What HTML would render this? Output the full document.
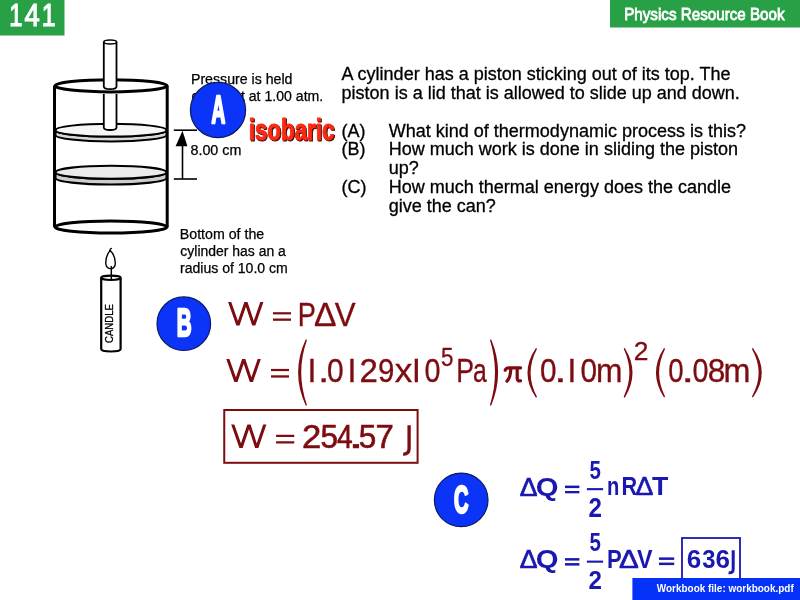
<!DOCTYPE html>
<html><head><meta charset="utf-8"><title>Physics Resource Book 141</title>
<style>
html,body{margin:0;padding:0;background:#fff;width:800px;height:600px;overflow:hidden}
svg{display:block;will-change:transform}
text{font-family:"Liberation Sans", sans-serif}
</style></head><body>
<svg width="800" height="600" viewBox="0 0 800 600">
<rect width="800" height="600" fill="#fff"/>
<rect x="0" y="0" width="64.5" height="35.5" fill="#28a046"/>
<text x="9.32" y="26.40" font-size="30.8" font-weight="normal" fill="#fff" textLength="13.17" lengthAdjust="spacingAndGlyphs" stroke="#fff" stroke-width="1.2">1</text>
<text x="24.55" y="26.40" font-size="30.8" font-weight="normal" fill="#fff" textLength="15.20" lengthAdjust="spacingAndGlyphs" stroke="#fff" stroke-width="1.2">4</text>
<text x="41.74" y="26.40" font-size="30.8" font-weight="normal" fill="#fff" textLength="13.81" lengthAdjust="spacingAndGlyphs" stroke="#fff" stroke-width="1.2">1</text>
<rect x="610" y="0" width="190" height="27.5" fill="#28a046"/>
<text x="624.18" y="19.60" font-size="16.8" font-weight="normal" fill="#fff" textLength="160.42" lengthAdjust="spacingAndGlyphs" stroke="#fff" stroke-width="0.8">Physics Resource Book</text>
<g fill="none" stroke="#000">
<ellipse cx="111" cy="85.8" rx="56" ry="6.1" stroke-width="3"/>
<line x1="54.5" y1="85.8" x2="54.5" y2="227" stroke-width="3"/>
<line x1="167.2" y1="85.8" x2="167.2" y2="227" stroke-width="3"/>
<ellipse cx="111" cy="227" rx="56" ry="6.1" stroke-width="3" fill="#fff"/>
</g>
<path d="M103.8,42 L103.8,86.5 Q103.8,89.2 110.2,89.2 Q116.5,89.2 116.5,86.5 L116.5,42" fill="#fff" stroke="#000" stroke-width="1.8"/>
<ellipse cx="110.2" cy="42" rx="6.4" ry="2" fill="#fff" stroke="#000" stroke-width="1.6"/>
<path d="M55.5,130.15 A55.5,6.4 0 0 0 166.5,130.15 L166.5,135.05 A55.5,6.4 0 0 1 55.5,135.05 Z" fill="#d8d8d8" stroke="#000" stroke-width="2"/>
<ellipse cx="111" cy="130.15" rx="55.5" ry="6.4" fill="#f6f6f6" stroke="#000" stroke-width="2"/>
<path d="M103.8,94 L103.8,127.5 Q103.8,130 110.2,130 Q116.5,130 116.5,127.5 L116.5,94" fill="#fff" stroke="#000" stroke-width="1.8"/>
<path d="M55.5,172.25 A55.5,6.5 0 0 0 166.5,172.25 L166.5,178.05 A55.5,6.5 0 0 1 55.5,178.05 Z" fill="#cdcdcd" stroke="#000" stroke-width="2.1"/>
<ellipse cx="111" cy="172.25" rx="55.5" ry="6.5" fill="#ebebeb" stroke="#000" stroke-width="2.1"/>
<g stroke="#000" stroke-width="1.6">
<line x1="173.8" y1="130.2" x2="197" y2="130.2"/>
<line x1="173.8" y1="179" x2="197" y2="179"/>
<line x1="182.5" y1="140" x2="182.5" y2="179"/>
</g>
<path d="M182.5,130.8 L187.4,146.3 L175.6,146.3 Z" fill="#000"/>
<path d="M101.2,278 L101.2,349 Q101.2,351.5 111,351.5 Q120.6,351.5 120.6,349 L120.6,278" fill="#fff" stroke="#000" stroke-width="2.2"/>
<ellipse cx="110.9" cy="277.8" rx="9.8" ry="2.2" fill="#fff" stroke="#000" stroke-width="2.2"/>
<path d="M110,250.6 C107.2,254 105.6,258.5 105.8,263.5 C106,267 108.5,268.6 111,268.6 C113.2,268.6 115.4,267 115.3,263 C115.1,257 112.8,253 110.4,250.8 Z" fill="#fff" stroke="#000" stroke-width="1.4"/>
<path d="M109.6,251 Q110,248.6 111.4,248.3" fill="none" stroke="#000" stroke-width="1.3" stroke-linecap="round"/>
<line x1="111.3" y1="266" x2="111.3" y2="279" stroke="#000" stroke-width="1.5"/>
<text transform="translate(112.7,342.92) rotate(-90)" x="0" y="0" font-size="10.5" textLength="38.83" lengthAdjust="spacingAndGlyphs" fill="#000" stroke="#000" stroke-width="0.3">CANDLE</text>
<text x="190.97" y="83.75" font-size="14" font-weight="normal" fill="#000" textLength="101.45" lengthAdjust="spacingAndGlyphs" stroke="#000" stroke-width="0.25">Pressure is held</text>
<text x="191.54" y="100.60" font-size="14" font-weight="normal" fill="#000" textLength="131.69" lengthAdjust="spacingAndGlyphs" stroke="#000" stroke-width="0.25">constant at 1.00 atm.</text>
<text x="190.46" y="154.50" font-size="14" font-weight="normal" fill="#000" textLength="50.93" lengthAdjust="spacingAndGlyphs" stroke="#000" stroke-width="0.25">8.00 cm</text>
<text x="179.76" y="238.90" font-size="14" font-weight="normal" fill="#000" textLength="84.52" lengthAdjust="spacingAndGlyphs" stroke="#000" stroke-width="0.25">Bottom of the</text>
<text x="180.34" y="255.70" font-size="14" font-weight="normal" fill="#000" textLength="105.56" lengthAdjust="spacingAndGlyphs" stroke="#000" stroke-width="0.25">cylinder has an a</text>
<text x="179.99" y="272.50" font-size="14" font-weight="normal" fill="#000" textLength="107.76" lengthAdjust="spacingAndGlyphs" stroke="#000" stroke-width="0.25">radius of 10.0 cm</text>
<text x="341.60" y="80.00" font-size="18" font-weight="normal" fill="#000" stroke="#000" stroke-width="0.3">A cylinder has a piston sticking out of its top. The</text>
<text x="341.60" y="98.70" font-size="18" font-weight="normal" fill="#000" stroke="#000" stroke-width="0.3">piston is a lid that is allowed to slide up and down.</text>
<text x="341.60" y="136.70" font-size="18" font-weight="normal" fill="#000" stroke="#000" stroke-width="0.3">(A)</text>
<text x="388.80" y="136.70" font-size="18" font-weight="normal" fill="#000" stroke="#000" stroke-width="0.3">What kind of thermodynamic process is this?</text>
<text x="341.60" y="155.30" font-size="18" font-weight="normal" fill="#000" stroke="#000" stroke-width="0.3">(B)</text>
<text x="388.80" y="155.30" font-size="18" font-weight="normal" fill="#000" stroke="#000" stroke-width="0.3">How much work is done in sliding the piston</text>
<text x="388.80" y="174.20" font-size="18" font-weight="normal" fill="#000" stroke="#000" stroke-width="0.3">up?</text>
<text x="341.60" y="193.30" font-size="18" font-weight="normal" fill="#000" stroke="#000" stroke-width="0.3">(C)</text>
<text x="388.80" y="193.30" font-size="18" font-weight="normal" fill="#000" stroke="#000" stroke-width="0.3">How much thermal energy does the candle</text>
<text x="388.80" y="211.70" font-size="18" font-weight="normal" fill="#000" stroke="#000" stroke-width="0.3">give the can?</text>
<circle cx="218" cy="110" r="27.6" fill="#0b34f8" stroke="#0a1a60" stroke-width="1.2"/>
<text x="211.42" y="122.70" font-size="38.23" font-weight="bold" fill="#fff" textLength="13.80" lengthAdjust="spacingAndGlyphs" stroke="#fff" stroke-width="2.6" stroke-linejoin="round">A</text>
<circle cx="183.8" cy="323.7" r="26.8" fill="#0b34f8" stroke="#0a1a60" stroke-width="1.2"/>
<text x="176.76" y="336.20" font-size="38.23" font-weight="bold" fill="#fff" textLength="14.92" lengthAdjust="spacingAndGlyphs" stroke="#fff" stroke-width="2.6" stroke-linejoin="round">B</text>
<circle cx="461.2" cy="499.9" r="26.8" fill="#0b34f8" stroke="#0a1a60" stroke-width="1.2"/>
<text x="453.89" y="512.90" font-size="39.06" font-weight="bold" fill="#fff" textLength="14.55" lengthAdjust="spacingAndGlyphs" stroke="#fff" stroke-width="2.6" stroke-linejoin="round">C</text>
<g transform="translate(0,139.80) scale(1,1.06) translate(0,-139.80)">
<text x="249.64" y="140.80" font-size="28.5" font-weight="bold" fill="#3c0500" stroke="#3c0500" stroke-width="1.0" stroke-linejoin="round" textLength="85.74" lengthAdjust="spacingAndGlyphs">isobaric</text>
<text x="248.74" y="139.80" font-size="28.5" font-weight="bold" fill="#fb2a14" stroke="#fb2a14" stroke-width="1.0" stroke-linejoin="round" textLength="85.74" lengthAdjust="spacingAndGlyphs">isobaric</text>
</g>
<clipPath id="wc1"><rect x="225" y="302" width="41.5" height="23.5"/></clipPath>
<path d="M228.32,298.23 L237.94,325.50 L245.93,302.00 L253.74,325.50 L263.16,298.22" fill="none" stroke="#7c0c10" stroke-width="3.0" stroke-linejoin="miter" stroke-miterlimit="10" clip-path="url(#wc1)"/>
<text x="297.83" y="325.50" font-size="34" font-weight="normal" fill="#7c0c10" textLength="18.08" lengthAdjust="spacingAndGlyphs" stroke="#7c0c10" stroke-width="0.35">P</text>
<text x="313.99" y="325.50" font-size="34" font-weight="normal" fill="#7c0c10" textLength="22.45" lengthAdjust="spacingAndGlyphs" stroke="#7c0c10" stroke-width="0.35">Δ</text>
<text x="334.84" y="325.50" font-size="34" font-weight="normal" fill="#7c0c10" textLength="20.88" lengthAdjust="spacingAndGlyphs" stroke="#7c0c10" stroke-width="0.35">V</text>
<rect x="273" y="312.2" width="18.00" height="2.20" fill="#7c0c10"/><rect x="273" y="318.5" width="18.00" height="2.30" fill="#7c0c10"/>
<clipPath id="wc2"><rect x="223.2" y="359" width="40.69999999999999" height="23"/></clipPath>
<path d="M226.53,355.23 L235.92,382.00 L243.72,359.00 L251.36,382.00 L260.55,355.22" fill="none" stroke="#7c0c10" stroke-width="3.0" stroke-linejoin="miter" stroke-miterlimit="10" clip-path="url(#wc2)"/>
<rect x="271" y="368.9" width="18.00" height="2.20" fill="#7c0c10"/><rect x="271" y="375.3" width="18.00" height="2.30" fill="#7c0c10"/>
<path d="M306.20,340.10 Q291.40,372.50 306.20,404.90 Q294.80,372.50 306.20,340.10 Z" fill="#7c0c10" stroke="#7c0c10" stroke-width="1.4" stroke-linejoin="round"/>
<text x="307.46" y="382.20" font-size="33.2" font-weight="normal" fill="#7c0c10" textLength="8.92" lengthAdjust="spacingAndGlyphs" stroke="#7c0c10" stroke-width="0.35">I</text>
<text x="318.39" y="382.20" font-size="33.2" font-weight="normal" fill="#7c0c10" textLength="10.82" lengthAdjust="spacingAndGlyphs" stroke="#7c0c10" stroke-width="0.35">.</text>
<text x="326.90" y="382.20" font-size="33.2" font-weight="normal" fill="#7c0c10" textLength="16.69" lengthAdjust="spacingAndGlyphs" stroke="#7c0c10" stroke-width="0.35">0</text>
<text x="347.46" y="382.20" font-size="33.2" font-weight="normal" fill="#7c0c10" textLength="8.92" lengthAdjust="spacingAndGlyphs" stroke="#7c0c10" stroke-width="0.35">I</text>
<text x="359.60" y="382.20" font-size="33.2" font-weight="normal" fill="#7c0c10" textLength="18.34" lengthAdjust="spacingAndGlyphs" stroke="#7c0c10" stroke-width="0.35">2</text>
<text x="378.07" y="382.20" font-size="33.2" font-weight="normal" fill="#7c0c10" textLength="16.39" lengthAdjust="spacingAndGlyphs" stroke="#7c0c10" stroke-width="0.35">9</text>
<text x="394.65" y="382.20" font-size="33.2" font-weight="normal" fill="#7c0c10" textLength="17.60" lengthAdjust="spacingAndGlyphs" stroke="#7c0c10" stroke-width="0.35">x</text>
<text x="411.91" y="382.20" font-size="33.2" font-weight="normal" fill="#7c0c10" textLength="8.77" lengthAdjust="spacingAndGlyphs" stroke="#7c0c10" stroke-width="0.35">I</text>
<text x="424.45" y="382.20" font-size="33.2" font-weight="normal" fill="#7c0c10" textLength="15.99" lengthAdjust="spacingAndGlyphs" stroke="#7c0c10" stroke-width="0.35">0</text>
<text x="456.37" y="382.20" font-size="33.2" font-weight="normal" fill="#7c0c10" textLength="17.77" lengthAdjust="spacingAndGlyphs" stroke="#7c0c10" stroke-width="0.35">P</text>
<text x="473.01" y="382.20" font-size="33.2" font-weight="normal" fill="#7c0c10" textLength="13.77" lengthAdjust="spacingAndGlyphs" stroke="#7c0c10" stroke-width="0.35">a</text>
<text x="441.01" y="366.25" font-size="25.7" font-weight="normal" fill="#7c0c10" textLength="12.41" lengthAdjust="spacingAndGlyphs" stroke="#7c0c10" stroke-width="0.35">5</text>
<path d="M490.70,340.10 Q504.10,372.50 490.70,404.90 Q500.70,372.50 490.70,340.10 Z" fill="#7c0c10" stroke="#7c0c10" stroke-width="1.4" stroke-linejoin="round"/>
<g fill="none" stroke="#7c0c10" stroke-width="3.2" stroke-linecap="round"><path d="M505.2,370.2 Q506,367.6 509.5,367.8 L520.6,367.8"/><path d="M510.8,368.5 Q510.6,377.5 507,381.2"/><path d="M517.2,368.5 L517.2,378.5 Q517.6,381.5 520.6,380.8"/></g>
<path d="M536.20,348.80 Q520.20,372.80 536.20,396.80 Q523.60,372.80 536.20,348.80 Z" fill="#7c0c10" stroke="#7c0c10" stroke-width="1.4" stroke-linejoin="round"/>
<text x="540.01" y="382.10" font-size="33.2" font-weight="normal" fill="#7c0c10" textLength="16.57" lengthAdjust="spacingAndGlyphs" stroke="#7c0c10" stroke-width="0.35">0</text>
<text x="554.22" y="382.10" font-size="33.2" font-weight="normal" fill="#7c0c10" textLength="12.28" lengthAdjust="spacingAndGlyphs" stroke="#7c0c10" stroke-width="0.35">.</text>
<text x="567.41" y="382.10" font-size="33.2" font-weight="normal" fill="#7c0c10" textLength="8.77" lengthAdjust="spacingAndGlyphs" stroke="#7c0c10" stroke-width="0.35">I</text>
<text x="580.41" y="382.10" font-size="33.2" font-weight="normal" fill="#7c0c10" textLength="16.57" lengthAdjust="spacingAndGlyphs" stroke="#7c0c10" stroke-width="0.35">0</text>
<text x="595.93" y="382.10" font-size="33.2" font-weight="normal" fill="#7c0c10" textLength="26.47" lengthAdjust="spacingAndGlyphs" stroke="#7c0c10" stroke-width="0.35">m</text>
<path d="M624.45,348.80 Q639.15,372.80 624.45,396.80 Q635.75,372.80 624.45,348.80 Z" fill="#7c0c10" stroke="#7c0c10" stroke-width="1.4" stroke-linejoin="round"/>
<text x="633.68" y="359.50" font-size="26" font-weight="normal" fill="#7c0c10" textLength="14.67" lengthAdjust="spacingAndGlyphs" stroke="#7c0c10" stroke-width="0.35">2</text>
<path d="M664.30,348.90 Q649.10,372.73 664.30,396.55 Q652.50,372.73 664.30,348.90 Z" fill="#7c0c10" stroke="#7c0c10" stroke-width="1.4" stroke-linejoin="round"/>
<text x="668.15" y="382.00" font-size="33.2" font-weight="normal" fill="#7c0c10" textLength="15.35" lengthAdjust="spacingAndGlyphs" stroke="#7c0c10" stroke-width="0.35">0</text>
<text x="681.63" y="382.00" font-size="33.2" font-weight="normal" fill="#7c0c10" textLength="12.57" lengthAdjust="spacingAndGlyphs" stroke="#7c0c10" stroke-width="0.35">.</text>
<text x="692.55" y="382.00" font-size="33.2" font-weight="normal" fill="#7c0c10" textLength="15.99" lengthAdjust="spacingAndGlyphs" stroke="#7c0c10" stroke-width="0.35">0</text>
<text x="707.67" y="382.00" font-size="33.2" font-weight="normal" fill="#7c0c10" textLength="17.63" lengthAdjust="spacingAndGlyphs" stroke="#7c0c10" stroke-width="0.35">8</text>
<text x="723.50" y="382.00" font-size="33.2" font-weight="normal" fill="#7c0c10" textLength="26.94" lengthAdjust="spacingAndGlyphs" stroke="#7c0c10" stroke-width="0.35">m</text>
<path d="M752.70,348.90 Q769.40,372.73 752.70,396.55 Q766.00,372.73 752.70,348.90 Z" fill="#7c0c10" stroke="#7c0c10" stroke-width="1.4" stroke-linejoin="round"/>
<rect x="224.25" y="410" width="193.35" height="52.8" fill="none" stroke="#7c0c10" stroke-width="2"/>
<clipPath id="wc3"><rect x="228.1" y="424.4" width="41.400000000000006" height="23.700000000000045"/></clipPath>
<path d="M231.43,420.62 L241.01,448.10 L248.98,424.40 L256.76,448.10 L266.14,420.61" fill="none" stroke="#7c0c10" stroke-width="3.0" stroke-linejoin="miter" stroke-miterlimit="10" clip-path="url(#wc3)"/>
<rect x="276.1" y="434.75" width="18.15" height="2.25" fill="#7c0c10"/><rect x="276.1" y="441.25" width="18.15" height="2.25" fill="#7c0c10"/>
<text x="302.02" y="448.20" font-size="33" font-weight="normal" fill="#7c0c10" textLength="19.25" lengthAdjust="spacingAndGlyphs" stroke="#7c0c10" stroke-width="0.6">2</text>
<text x="320.49" y="448.20" font-size="33" font-weight="normal" fill="#7c0c10" textLength="17.56" lengthAdjust="spacingAndGlyphs" stroke="#7c0c10" stroke-width="0.6">5</text>
<text x="336.94" y="448.20" font-size="33" font-weight="normal" fill="#7c0c10" textLength="15.69" lengthAdjust="spacingAndGlyphs" stroke="#7c0c10" stroke-width="0.6">4</text>
<text x="348.28" y="448.20" font-size="33" font-weight="normal" fill="#7c0c10" textLength="15.35" lengthAdjust="spacingAndGlyphs" stroke="#7c0c10" stroke-width="0.6">.</text>
<text x="358.74" y="448.20" font-size="33" font-weight="normal" fill="#7c0c10" textLength="17.56" lengthAdjust="spacingAndGlyphs" stroke="#7c0c10" stroke-width="0.6">5</text>
<text x="375.60" y="448.20" font-size="33" font-weight="normal" fill="#7c0c10" textLength="18.34" lengthAdjust="spacingAndGlyphs" stroke="#7c0c10" stroke-width="0.6">7</text>
<path d="M409.1,425.2 L409.1,448.5 Q409.1,454 403.2,454.3" fill="none" stroke="#7c0c10" stroke-width="3.3"/>
<text x="519.80" y="496.00" font-size="25" font-weight="normal" fill="#1a18b0" textLength="17.85" lengthAdjust="spacingAndGlyphs" stroke="#1a18b0" stroke-width="0.7">Δ</text>
<text x="535.73" y="496.00" font-size="25" font-weight="bold" fill="#1a18b0" textLength="22.77" lengthAdjust="spacingAndGlyphs" >Q</text>
<rect x="565" y="485.6" width="14.40" height="2.50" fill="#1a18b0"/><rect x="565" y="491.0" width="14.40" height="2.30" fill="#1a18b0"/>
<text x="589.38" y="478.50" font-size="26.5" font-weight="bold" fill="#1a18b0" textLength="11.40" lengthAdjust="spacingAndGlyphs" >5</text>
<rect x="586.9" y="488.1" width="16.2" height="2.1" fill="#1a18b0"/>
<text x="588.55" y="516.90" font-size="27" font-weight="bold" fill="#1a18b0" textLength="13.44" lengthAdjust="spacingAndGlyphs" >2</text>
<text x="606.94" y="495.30" font-size="25" font-weight="bold" fill="#1a18b0" textLength="12.28" lengthAdjust="spacingAndGlyphs" >n</text>
<text x="621.49" y="495.30" font-size="25" font-weight="bold" fill="#1a18b0" textLength="15.69" lengthAdjust="spacingAndGlyphs" >R</text>
<text x="635.50" y="495.30" font-size="25" font-weight="normal" fill="#1a18b0" textLength="17.85" lengthAdjust="spacingAndGlyphs" stroke="#1a18b0" stroke-width="0.7">Δ</text>
<text x="651.93" y="495.30" font-size="25" font-weight="bold" fill="#1a18b0" textLength="16.36" lengthAdjust="spacingAndGlyphs" >T</text>
<text x="519.80" y="568.10" font-size="25" font-weight="normal" fill="#1a18b0" textLength="17.85" lengthAdjust="spacingAndGlyphs" stroke="#1a18b0" stroke-width="0.7">Δ</text>
<text x="535.73" y="568.10" font-size="25" font-weight="bold" fill="#1a18b0" textLength="22.77" lengthAdjust="spacingAndGlyphs" >Q</text>
<rect x="565" y="558.1" width="14.40" height="2.50" fill="#1a18b0"/><rect x="565" y="563.1" width="14.40" height="2.50" fill="#1a18b0"/>
<text x="589.38" y="550.60" font-size="26.2" font-weight="bold" fill="#1a18b0" textLength="11.40" lengthAdjust="spacingAndGlyphs" >5</text>
<rect x="586.9" y="560.6" width="16.2" height="2.1" fill="#1a18b0"/>
<text x="588.55" y="588.75" font-size="26.2" font-weight="bold" fill="#1a18b0" textLength="13.44" lengthAdjust="spacingAndGlyphs" >2</text>
<text x="606.96" y="567.80" font-size="25" font-weight="bold" fill="#1a18b0" textLength="14.74" lengthAdjust="spacingAndGlyphs" >P</text>
<text x="618.96" y="567.80" font-size="25" font-weight="normal" fill="#1a18b0" textLength="19.77" lengthAdjust="spacingAndGlyphs" stroke="#1a18b0" stroke-width="0.7">Δ</text>
<text x="636.88" y="567.80" font-size="25" font-weight="bold" fill="#1a18b0" textLength="15.53" lengthAdjust="spacingAndGlyphs" >V</text>
<rect x="659" y="557.4" width="15.20" height="2.50" fill="#1a18b0"/><rect x="659" y="562.6" width="15.20" height="2.50" fill="#1a18b0"/>
<rect x="682" y="538" width="58" height="50" fill="none" stroke="#1a18b0" stroke-width="1.8"/>
<text x="686.79" y="567.80" font-size="25" font-weight="bold" fill="#1a18b0" textLength="14.45" lengthAdjust="spacingAndGlyphs" >6</text>
<text x="702.30" y="567.80" font-size="25" font-weight="bold" fill="#1a18b0" textLength="13.26" lengthAdjust="spacingAndGlyphs" >3</text>
<text x="715.49" y="567.80" font-size="25" font-weight="bold" fill="#1a18b0" textLength="14.45" lengthAdjust="spacingAndGlyphs" >6</text>
<path d="M733.2,550.2 L733.2,569 Q733.2,573.4 728.6,572.8" fill="none" stroke="#1a18b0" stroke-width="3.0"/>
<rect x="632.4" y="578" width="167.6" height="22" fill="#0432f8"/>
<text x="656.80" y="591.50" font-size="10" font-weight="bold" fill="#fff" textLength="136.90" lengthAdjust="spacingAndGlyphs" >Workbook file: workbook.pdf</text>
</svg>
</body></html>
